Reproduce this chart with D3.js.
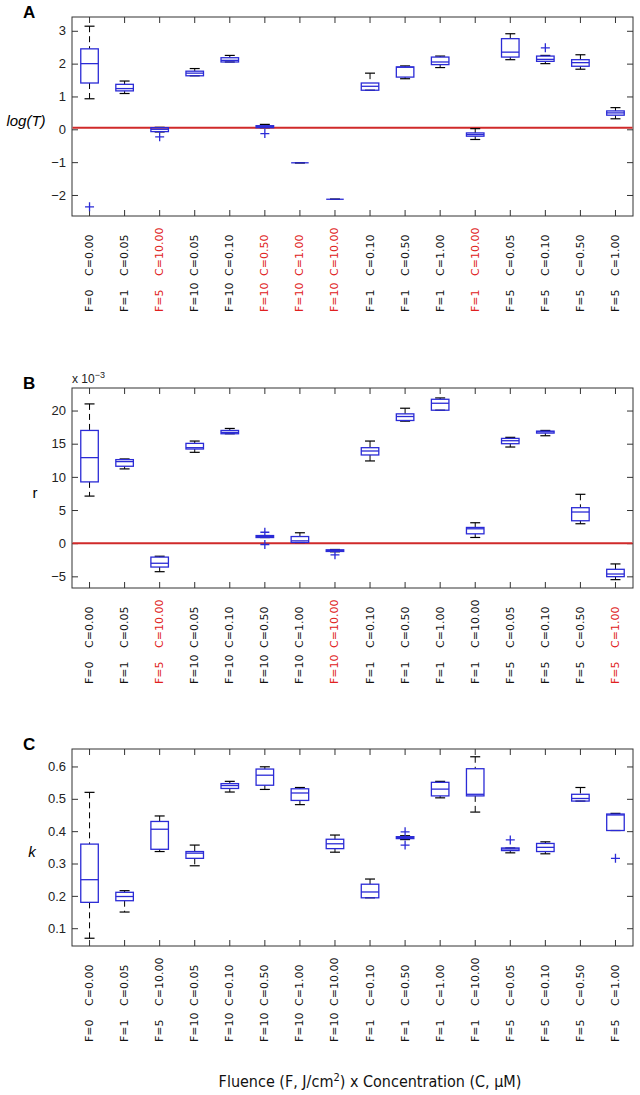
<!DOCTYPE html>
<html>
<head>
<meta charset="utf-8">
<script src="https://cdn.jsdelivr.net/npm/d3@7"></script>
<style>
  body { margin: 0; background: #fff; }
  svg { display: block; }
</style>
</head>
<body>
<div id="content"></div>
<script>
// categories
const labF = ["F=0","F=1","F=5","F=10","F=10","F=10","F=10","F=10","F=1","F=1","F=1","F=1","F=5","F=5","F=5","F=5"];
const labC = ["C=0.00","C=0.05","C=10.00","C=0.05","C=0.10","C=0.50","C=1.00","C=10.00","C=0.10","C=0.50","C=1.00","C=10.00","C=0.05","C=0.10","C=0.50","C=1.00"];

// panel A: log(T)
const aHigh = [3.14,1.47,0.06,1.85,2.25,0.15,-1.02,-2.13,1.71,1.93,2.23,0.02,2.91,2.25,2.27,0.66];
const aQ3   = [2.45,1.37,0.05,1.77,2.18,0.11,-1.02,-2.13,1.41,1.90,2.20,-0.11,2.76,2.23,2.12,0.56];
const aMed  = [2.00,1.24,0.00,1.71,2.10,0.08,-1.02,-2.13,1.31,1.89,2.05,-0.16,2.35,2.13,2.03,0.50];
const aQ1   = [1.41,1.17,-0.07,1.63,2.05,0.05,-1.02,-2.13,1.19,1.59,1.97,-0.21,2.20,2.07,1.92,0.43];
const aLow  = [0.93,1.09,-0.08,1.63,2.05,0.05,-1.02,-2.13,1.19,1.54,1.88,-0.31,2.12,2.00,1.83,0.32];
const aOut  = [[-2.36],[],[-0.23],[],[],[-0.13],[],[],[],[],[],[],[],[2.48],[],[]];
const aTicks = [-2,-1,0,1,2,3];
const redA = [2,5,6,7,11];

// panel B: r (x 10^-3)
const bHigh = [21.0,12.7,-1.97,15.4,17.3,1.15,1.57,-0.95,15.4,20.35,21.9,3.08,15.96,17.0,7.37,-3.13];
const bQ3   = [17.0,12.6,-2.1,15.05,17.0,1.15,1.0,-1.0,14.4,19.5,21.7,2.37,15.8,16.9,5.35,-3.94];
const bMed  = [12.9,12.3,-3.03,14.4,16.7,1.0,0.35,-1.1,13.9,19.1,21.1,2.17,15.45,16.8,4.7,-4.65];
const bQ1   = [9.24,11.6,-3.6,14.2,16.5,0.85,0.1,-1.25,13.3,18.5,20.05,1.41,15.0,16.6,3.38,-5.05];
const bLow  = [7.1,11.2,-4.3,13.7,16.5,0.85,0.1,-1.3,12.4,18.4,20.05,0.86,14.5,16.2,2.93,-5.5];
const bOut  = [[],[],[],[],[],[1.65,-0.2],[],[-1.75],[],[],[],[],[],[],[],[]];
const bTicks = [-5,0,5,10,15,20];
const redB = [2,7,15];

// panel C: k
const cHigh = [0.52,0.216,0.447,0.357,0.554,0.599,0.535,0.388,0.252,0.386,0.554,0.63,0.348,0.367,0.535,0.455];
const cQ3   = [0.36,0.211,0.43,0.337,0.547,0.592,0.531,0.375,0.236,0.383,0.551,0.593,0.348,0.362,0.514,0.453];
const cMed  = [0.25,0.198,0.406,0.332,0.541,0.573,0.518,0.361,0.212,0.38,0.53,0.514,0.345,0.35,0.501,0.45];
const cQ1   = [0.18,0.185,0.344,0.316,0.532,0.542,0.495,0.346,0.194,0.377,0.509,0.509,0.34,0.337,0.493,0.402];
const cLow  = [0.069,0.15,0.337,0.293,0.521,0.529,0.482,0.335,0.194,0.374,0.503,0.459,0.333,0.33,0.493,0.402];
const cOut  = [[],[],[],[],[],[],[],[],[],[0.398,0.357],[],[],[0.373],[],[],[0.316]];
const cTicks = [0.1,0.2,0.3,0.4,0.5,0.6];
const redC = [];

const width = 640, height = 1095;
const left = 72, right = 633;
const boxBlue = "#2b2bd6";

const svg = d3.select("#content").append("svg")
  .attr("width", width)
  .attr("height", height);

const x = d3.scaleBand()
  .domain(d3.range(labF.length))
  .range([left, right]);
const cx = i => x(i) + x.bandwidth() / 2;

const panels = [
  {letter: "A", top: 17, bottom: 216, domain: [-2.64, 3.42], ticks: aTicks, fmt: d3.format("d"),
   high: aHigh, q3: aQ3, med: aMed, q1: aQ1, low: aLow, out: aOut, red: redA, ref: 0.05,
   ylab: "log(T)", italic: true, ylabX: 26},
  {letter: "B", top: 388, bottom: 588, domain: [-6.76, 23.4], ticks: bTicks, fmt: d3.format("d"),
   high: bHigh, q3: bQ3, med: bMed, q1: bQ1, low: bLow, out: bOut, red: redB, ref: 0,
   ylab: "r", italic: false, ylabX: 35, exponent: true},
  {letter: "C", top: 749, bottom: 946, domain: [0.045, 0.654], ticks: cTicks, fmt: d3.format(".1f"),
   high: cHigh, q3: cQ3, med: cMed, q1: cQ1, low: cLow, out: cOut, red: redC, ref: null,
   ylab: "k", italic: true, ylabX: 32}
];

panels.forEach(p => {
  const y = d3.scaleLinear().domain(p.domain).range([p.bottom, p.top]);
  const g = svg.append("g");

  // axes with inward ticks
  const styleAxis = sel => {
    sel.select(".domain").remove();
    sel.selectAll(".tick line").attr("stroke", "#333");
    sel.selectAll(".tick text")
      .attr("fill", "#222")
      .style("font-family", "'Liberation Sans', Arial, sans-serif")
      .style("font-size", "13px");
  };
  g.append("g").attr("transform", `translate(${left},0)`)
    .call(d3.axisLeft(y).tickValues(p.ticks).tickFormat(p.fmt).tickSize(-6).tickPadding(6))
    .call(styleAxis);
  g.append("g").attr("transform", `translate(${right},0)`)
    .call(d3.axisRight(y).tickValues(p.ticks).tickFormat("").tickSize(-6))
    .call(styleAxis);
  g.append("g").attr("transform", `translate(0,${p.top})`)
    .call(d3.axisTop(x).tickFormat("").tickSize(-6))
    .call(styleAxis);
  g.append("g").attr("transform", `translate(0,${p.bottom})`)
    .call(d3.axisBottom(x).tickFormat("").tickSize(-6))
    .call(styleAxis);

  g.append("rect")
    .attr("x", left).attr("y", p.top)
    .attr("width", right - left).attr("height", p.bottom - p.top)
    .attr("fill", "none").attr("stroke", "#333").attr("stroke-width", 1);

  // reference line
  if (p.ref !== null) {
    g.append("line")
      .attr("x1", left + 0.5).attr("x2", right - 0.5)
      .attr("y1", y(p.ref)).attr("y2", y(p.ref))
      .attr("stroke", "#d02a2a").attr("stroke-width", 2);
  }

  const idx = d3.range(labF.length);
  const bw = x.bandwidth() * 0.5;
  const capW = 10;

  // whiskers (dashed, black)
  g.selectAll(".wh").data(idx).join("line")
    .attr("x1", cx).attr("x2", cx)
    .attr("y1", i => y(p.high[i])).attr("y2", i => y(p.q3[i]))
    .attr("stroke", "#000").attr("stroke-dasharray", "6,4");
  g.selectAll(".wl").data(idx).join("line")
    .attr("x1", cx).attr("x2", cx)
    .attr("y1", i => y(p.q1[i])).attr("y2", i => y(p.low[i]))
    .attr("stroke", "#000").attr("stroke-dasharray", "6,4");
  // caps
  g.selectAll(".ch").data(idx).join("line")
    .attr("x1", i => cx(i) - capW / 2).attr("x2", i => cx(i) + capW / 2)
    .attr("y1", i => y(p.high[i])).attr("y2", i => y(p.high[i]))
    .attr("stroke", "#000").attr("stroke-width", 1.2);
  g.selectAll(".cl").data(idx).join("line")
    .attr("x1", i => cx(i) - capW / 2).attr("x2", i => cx(i) + capW / 2)
    .attr("y1", i => y(p.low[i])).attr("y2", i => y(p.low[i]))
    .attr("stroke", "#000").attr("stroke-width", 1.2);

  // boxes
  g.selectAll(".bx").data(idx).join("rect")
    .attr("x", i => cx(i) - bw / 2)
    .attr("y", i => y(p.q3[i]))
    .attr("width", bw)
    .attr("height", i => Math.max(0, y(p.q1[i]) - y(p.q3[i])))
    .attr("fill", "none").attr("stroke", boxBlue).attr("stroke-width", 1.3);
  // medians
  g.selectAll(".md").data(idx).join("line")
    .attr("x1", i => cx(i) - bw / 2).attr("x2", i => cx(i) + bw / 2)
    .attr("y1", i => y(p.med[i])).attr("y2", i => y(p.med[i]))
    .attr("stroke", boxBlue).attr("stroke-width", 1.3);

  // outliers
  const outs = idx.flatMap(i => p.out[i].map(v => ({i, v})));
  g.selectAll(".ol").data(outs).join("path")
    .attr("d", d => `M${cx(d.i) - 4.5},${y(d.v)}h9M${cx(d.i)},${y(d.v) - 4.5}v9`)
    .attr("stroke", boxBlue).attr("stroke-width", 1.3).attr("fill", "none");

  // category labels (rotated)
  const labG = g.append("g")
    .style("font-family", "'DejaVu Sans', sans-serif")
    .style("font-size", "11px");
  const col = i => p.red.includes(i) ? "#e02020" : "#111";
  labG.selectAll(".lf").data(idx).join("text")
    .attr("transform", i => `translate(${cx(i)},${p.bottom + 96}) rotate(-90)`)
    .attr("dominant-baseline", "central")
    .attr("fill", col)
    .text(i => labF[i]);
  labG.selectAll(".lc").data(idx).join("text")
    .attr("transform", i => `translate(${cx(i)},${p.bottom + 60}) rotate(-90)`)
    .attr("dominant-baseline", "central")
    .attr("fill", col)
    .text(i => labC[i]);

  // panel letter
  svg.append("text")
    .attr("x", 23).attr("y", p.top + 1)
    .style("font-family", "'Liberation Sans', Arial, sans-serif")
    .style("font-size", "17px").style("font-weight", "bold")
    .text(p.letter);

  // y label
  svg.append("text")
    .attr("x", p.ylabX).attr("y", (p.top + p.bottom) / 2 + 4)
    .attr("text-anchor", "middle")
    .attr("dominant-baseline", "central")
    .style("font-family", "'Liberation Sans', Arial, sans-serif")
    .style("font-size", "15px")
    .style("font-style", p.italic ? "italic" : "normal")
    .text(p.ylab);

  if (p.exponent) {
    const t = svg.append("text")
      .attr("x", left).attr("y", p.top - 5)
      .style("font-family", "'Liberation Sans', Arial, sans-serif")
      .style("font-size", "12px").attr("fill", "#222");
    t.append("tspan").text("x 10");
    t.append("tspan").attr("dy", -5).style("font-size", "9px").text("\u22123");
  }
});

// x axis title
const xt = svg.append("text")
  .attr("x", 370).attr("y", 1087)
  .attr("text-anchor", "middle")
  .style("font-family", "'DejaVu Sans Condensed', 'DejaVu Sans', sans-serif")
  .style("font-size", "16px")
  .attr("fill", "#111");
xt.append("tspan").text("Fluence (F, J/cm");
xt.append("tspan").attr("dy", -6).style("font-size", "11px").text("2");
xt.append("tspan").attr("dy", 6).text(") x Concentration (C, \u03bcM)");
</script>
</body>
</html>
